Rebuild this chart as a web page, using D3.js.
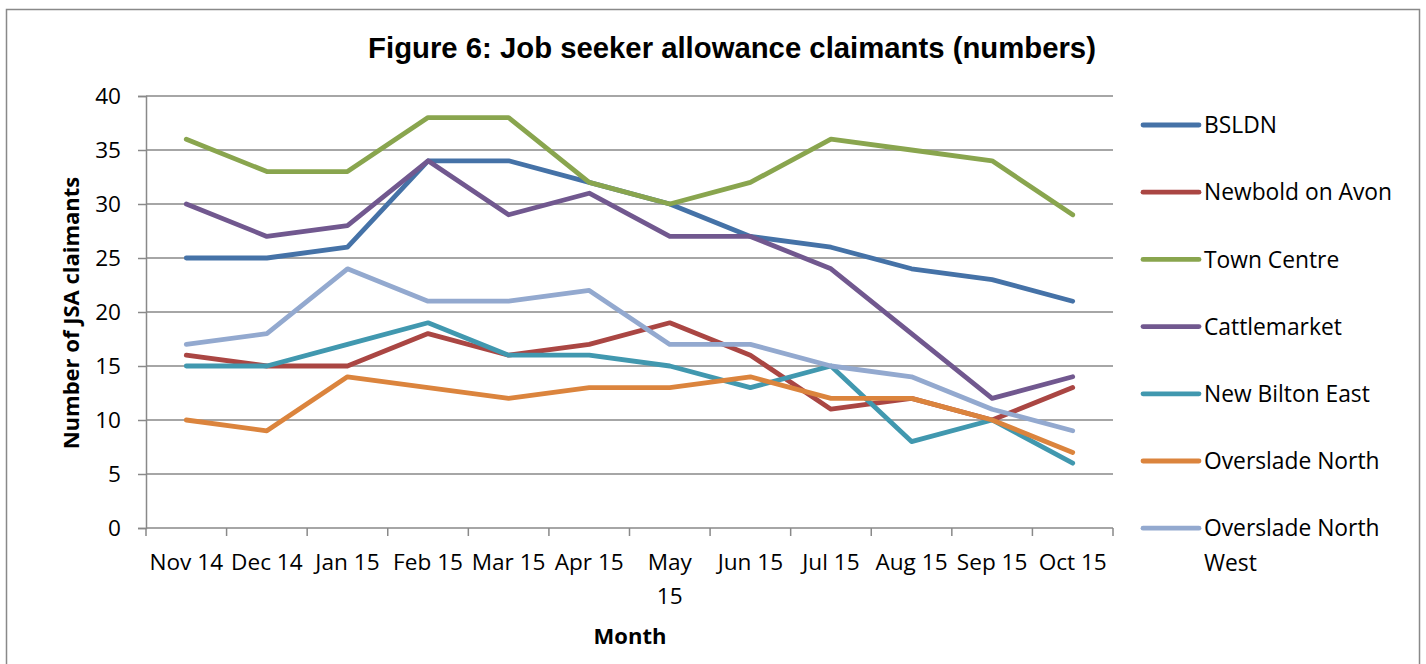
<!DOCTYPE html>
<html>
<head>
<meta charset="utf-8">
<script src="https://cdn.jsdelivr.net/npm/d3@7"></script>
<style>
  html, body { margin: 0; padding: 0; background: #fff; }
  svg { display: block; }
  .tick text { font-family: "Open Sans", sans-serif; }
</style>
</head>
<body>
<svg id="chart" width="1426" height="664"></svg>
<script>
// Months on the x axis
const months = ["Nov 14", "Dec 14", "Jan 15", "Feb 15", "Mar 15", "Apr 15",
                "May 15", "Jun 15", "Jul 15", "Aug 15", "Sep 15", "Oct 15"];

// JSA claimant counts per ward
const bsldn          = [25, 25, 26, 34, 34, 32, 30, 27, 26, 24, 23, 21];
const newboldOnAvon  = [16, 15, 15, 18, 16, 17, 19, 16, 11, 12, 10, 13];
const townCentre     = [36, 33, 33, 38, 38, 32, 30, 32, 36, 35, 34, 29];
const cattlemarket   = [30, 27, 28, 34, 29, 31, 27, 27, 24, 18, 12, 14];
const newBiltonEast  = [15, 15, 17, 19, 16, 16, 15, 13, 15, 8, 10, 6];
const oversladeNorth = [10, 9, 14, 13, 12, 13, 13, 14, 12, 12, 10, 7];
const oversladeNW    = [17, 18, 24, 21, 21, 22, 17, 17, 15, 14, 11, 9];

const seriesNames  = ["BSLDN", "Newbold on Avon", "Town Centre", "Cattlemarket",
                      "New Bilton East", "Overslade North", "Overslade North West"];
const seriesValues = [bsldn, newboldOnAvon, townCentre, cattlemarket,
                      newBiltonEast, oversladeNorth, oversladeNW];
const seriesColors = ["#4572A7", "#AA4643", "#89A54E", "#71588F",
                      "#4198AF", "#DB843D", "#93A9CF"];

const yTicks = [0, 5, 10, 15, 20, 25, 30, 35, 40];

const svg = d3.select("#chart");
const gridColor = "#898989";

// Outer chart frame
svg.append("rect")
  .attr("x", 6.5).attr("y", 9.5)
  .attr("width", 1413).attr("height", 700)
  .attr("fill", "none").attr("stroke", gridColor).attr("stroke-width", 1.5);

const plot = { left: 146, right: 1113, top: 96, bottom: 528 };

const x = d3.scaleBand().domain(months).range([plot.left, plot.right]);
const y = d3.scaleLinear().domain([0, 40]).range([plot.bottom, plot.top]);
const xc = m => x(m) + x.bandwidth() / 2;

// Horizontal gridlines
svg.append("g")
  .selectAll("line")
  .data(yTicks.filter(v => v > 0))
  .join("line")
  .attr("x1", plot.left).attr("x2", plot.right)
  .attr("y1", d => y(d)).attr("y2", d => y(d))
  .attr("stroke", gridColor).attr("stroke-width", 1.5);

// Y axis
const yAxis = svg.append("g")
  .attr("transform", `translate(${plot.left},0)`)
  .call(d3.axisLeft(y).tickValues(yTicks).tickSize(8).tickPadding(17));
yAxis.select(".domain").attr("stroke", gridColor).attr("stroke-width", 1.5);
yAxis.selectAll(".tick line").attr("stroke", gridColor).attr("stroke-width", 1.5);
yAxis.selectAll(".tick text")
  .attr("font-size", 22.6).attr("fill", "#000");

// X axis: labels centred in each band, tick marks on band edges
const xAxis = svg.append("g")
  .attr("transform", `translate(0,${plot.bottom})`)
  .call(d3.axisBottom(x).tickSize(0).tickPadding(26));
xAxis.select(".domain").remove();
xAxis.selectAll(".tick text")
  .attr("font-size", 22.6).attr("fill", "#000")
  .each(function(d) {
    const t = d3.select(this);
    if (d === "May 15") {
      t.text(null);
      t.append("tspan").attr("x", 0).attr("dy", "0.71em").text("May");
      t.append("tspan").attr("x", 0).attr("dy", "1.5em").text("15");
      t.attr("dy", null);
    }
  });

svg.append("line")
  .attr("x1", plot.left).attr("x2", plot.right)
  .attr("y1", plot.bottom).attr("y2", plot.bottom)
  .attr("stroke", gridColor).attr("stroke-width", 1.5);

const edges = months.map(m => x(m)).concat([x(months[months.length - 1]) + x.bandwidth()]);
svg.append("g")
  .selectAll("line")
  .data(edges)
  .join("line")
  .attr("x1", d => d).attr("x2", d => d)
  .attr("y1", plot.bottom).attr("y2", plot.bottom + 8)
  .attr("stroke", gridColor).attr("stroke-width", 1.5);

// Series lines
const line = d3.line()
  .x((d, i) => xc(months[i]))
  .y(d => y(d));

svg.append("g")
  .selectAll("path")
  .data(seriesValues)
  .join("path")
  .attr("d", d => line(d))
  .attr("fill", "none")
  .attr("stroke", (d, i) => seriesColors[i])
  .attr("stroke-width", 4.8)
  .attr("stroke-linejoin", "round")
  .attr("stroke-linecap", "round");

// Title
svg.append("text")
  .attr("x", 732).attr("y", 58)
  .attr("text-anchor", "middle")
  .attr("font-family", "Liberation Sans, Arial, sans-serif")
  .attr("font-weight", "bold")
  .attr("font-size", 29.3)
  .attr("fill", "#000")
  .text("Figure 6: Job seeker allowance claimants (numbers)");

// Axis titles
svg.append("text")
  .attr("transform", "translate(79,313) rotate(-90)")
  .attr("text-anchor", "middle")
  .attr("font-family", "Open Sans, sans-serif")
  .attr("font-weight", "bold")
  .attr("font-size", 22)
  .attr("fill", "#000")
  .text("Number of JSA claimants");

svg.append("text")
  .attr("x", 630).attr("y", 644)
  .attr("text-anchor", "middle")
  .attr("font-family", "Open Sans, sans-serif")
  .attr("font-weight", "bold")
  .attr("font-size", 22)
  .attr("fill", "#000")
  .text("Month");

// Legend
const legend = svg.append("g")
  .selectAll("g")
  .data(seriesNames)
  .join("g")
  .attr("transform", (d, i) => `translate(1143,${125 + i * 67.2})`);

legend.append("line")
  .attr("x1", 0).attr("x2", 56)
  .attr("y1", 0).attr("y2", 0)
  .attr("stroke", (d, i) => seriesColors[i])
  .attr("stroke-width", 4.8)
  .attr("stroke-linecap", "round");

legend.append("text")
  .attr("x", 61).attr("y", 0)
  .attr("dy", "0.36em")
  .attr("font-family", "Open Sans, sans-serif")
  .attr("font-size", 22.8)
  .attr("fill", "#000")
  .each(function(d) {
    const t = d3.select(this);
    if (d === "Overslade North West") {
      t.append("tspan").attr("x", 61).text("Overslade North");
      t.append("tspan").attr("x", 61).attr("dy", "1.5em").text("West");
    } else {
      t.text(d);
    }
  });
</script>
</body>
</html>
